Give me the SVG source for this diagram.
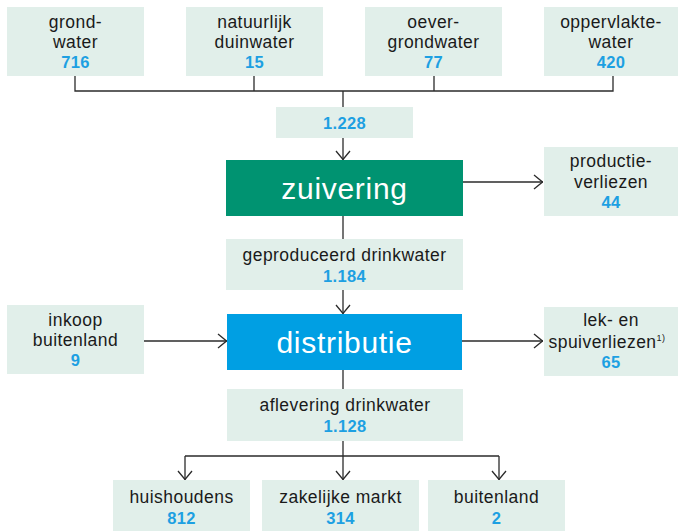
<svg xmlns="http://www.w3.org/2000/svg" width="678" height="531" viewBox="0 0 678 531">
<defs>
<style>
.box{fill:#e1efea}
.t{font-family:"Liberation Sans",Arial,sans-serif;font-size:17.5px;fill:#1a1a1a;text-anchor:middle;letter-spacing:0.45px}
.n{font-family:"Liberation Sans",Arial,sans-serif;font-size:16.5px;font-weight:bold;fill:#1da0e2;text-anchor:middle;letter-spacing:0.3px}
.big{font-family:"Liberation Sans",Arial,sans-serif;font-size:30px;fill:#ffffff;text-anchor:middle;letter-spacing:0.7px}
.sup{font-family:"Liberation Sans",Arial,sans-serif;font-size:9px;fill:#1a1a1a}
.ln{fill:none;stroke:#2b2b2b;stroke-width:1.3}
</style>
<marker id="ah" viewBox="0 0 10 16" refX="10" refY="8" markerWidth="10" markerHeight="16" markerUnits="userSpaceOnUse" orient="auto">
<path d="M1,1 L9.5,8 L1,15" fill="none" stroke="#2b2b2b" stroke-width="1.3"/>
</marker>
</defs>
<rect width="678" height="531" fill="#ffffff"/>

<g id="connectors">
<path class="ln" d="M75,76 V91 H613 V76 M254,76 V91 M434,76 V91 M343,91 V107"/>
<path class="ln" d="M343,138 V160" marker-end="url(#ah)"/>
<path class="ln" d="M463,182 H543" marker-end="url(#ah)"/>
<path class="ln" d="M343,216 V239"/>
<path class="ln" d="M343,290 V314" marker-end="url(#ah)"/>
<path class="ln" d="M144,341 H227" marker-end="url(#ah)"/>
<path class="ln" d="M462,341 H543" marker-end="url(#ah)"/>
<path class="ln" d="M343,370 V389"/>
<path class="ln" d="M343,441 V456 M185,456 H499"/>
<path class="ln" d="M185,456 V480" marker-end="url(#ah)"/>
<path class="ln" d="M343,456 V480" marker-end="url(#ah)"/>
<path class="ln" d="M499,456 V480" marker-end="url(#ah)"/>
</g>

<g id="grondwater">
<rect class="box" x="7" y="7" width="137" height="69"/>
<text class="t" x="75.5" y="28">grond-</text>
<text class="t" x="75.5" y="48">water</text>
<text class="n" x="75.5" y="68">716</text>
</g>
<g id="duinwater">
<rect class="box" x="186" y="7" width="137" height="69"/>
<text class="t" x="254.5" y="28">natuurlijk</text>
<text class="t" x="254.5" y="48">duinwater</text>
<text class="n" x="254.5" y="68">15</text>
</g>
<g id="oevergrondwater">
<rect class="box" x="365" y="7" width="137" height="69"/>
<text class="t" x="433.5" y="28">oever-</text>
<text class="t" x="433.5" y="48">grondwater</text>
<text class="n" x="433.5" y="68">77</text>
</g>
<g id="oppervlaktewater">
<rect class="box" x="544" y="7" width="134" height="69"/>
<text class="t" x="611" y="28">oppervlakte-</text>
<text class="t" x="611" y="48">water</text>
<text class="n" x="611" y="68">420</text>
</g>

<g id="totaal">
<rect class="box" x="276" y="107" width="137" height="31"/>
<text class="n" x="344.5" y="129">1.228</text>
</g>

<g id="zuivering">
<rect x="226" y="160" width="237" height="56" fill="#009371"/>
<text class="big" x="344.5" y="199">zuivering</text>
</g>

<g id="productieverliezen">
<rect class="box" x="544" y="147" width="134" height="69"/>
<text class="t" x="611" y="167">productie-</text>
<text class="t" x="611" y="188">verliezen</text>
<text class="n" x="611" y="208">44</text>
</g>

<g id="geproduceerd">
<rect class="box" x="226" y="239" width="237" height="51"/>
<text class="t" x="344.5" y="261">geproduceerd drinkwater</text>
<text class="n" x="344.5" y="282">1.184</text>
</g>

<g id="inkoop">
<rect class="box" x="7" y="305" width="137" height="69"/>
<text class="t" x="75.5" y="326">inkoop</text>
<text class="t" x="75.5" y="346">buitenland</text>
<text class="n" x="75.5" y="366">9</text>
</g>

<g id="distributie">
<rect x="227" y="314" width="235" height="56" fill="#009fe3"/>
<text class="big" x="344.5" y="353">distributie</text>
</g>

<g id="lekverliezen">
<rect class="box" x="544" y="307" width="134" height="69"/>
<text class="t" x="611" y="326">lek- en</text>
<text class="t" x="607" y="348">spuiverliezen<tspan class="sup" dy="-7">1)</tspan></text>
<text class="n" x="611" y="368">65</text>
</g>

<g id="aflevering">
<rect class="box" x="227" y="389" width="236" height="52"/>
<text class="t" x="345" y="411">aflevering drinkwater</text>
<text class="n" x="345" y="432">1.128</text>
</g>

<g id="huishoudens">
<rect class="box" x="113" y="480" width="137" height="51"/>
<text class="t" x="181.5" y="503">huishoudens</text>
<text class="n" x="181.5" y="524">812</text>
</g>
<g id="zakelijkemarkt">
<rect class="box" x="262" y="480" width="157" height="51"/>
<text class="t" x="340.5" y="503">zakelijke markt</text>
<text class="n" x="340.5" y="524">314</text>
</g>
<g id="buitenland">
<rect class="box" x="428" y="480" width="137" height="51"/>
<text class="t" x="496.5" y="503">buitenland</text>
<text class="n" x="496.5" y="524">2</text>
</g>
</svg>
